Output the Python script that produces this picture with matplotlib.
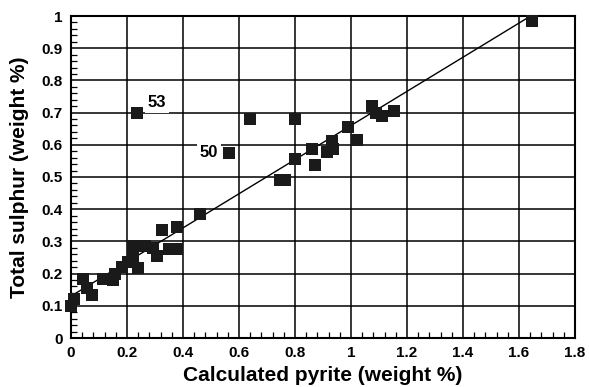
import matplotlib
matplotlib.use("Agg")
import matplotlib.pyplot as plt
from matplotlib.ticker import MultipleLocator, FuncFormatter
import numpy as np

# calculated pyrite (x) vs total sulphur (y), both weight %
pyrite = [0.00, 0.01, 0.044, 0.056, 0.074, 0.115, 0.151, 0.157, 0.181, 0.205,
          0.223, 0.24, 0.223, 0.264, 0.294, 0.306, 0.351, 0.38, 0.324, 0.377,
          0.46, 0.236, 0.565, 0.64, 0.80, 0.745, 0.765, 0.80, 0.862, 0.871,
          0.913, 0.937, 0.933, 0.99, 1.02, 1.075, 1.09, 1.11, 1.155, 1.645]
sulphur = [0.10, 0.12, 0.183, 0.154, 0.133, 0.183, 0.18, 0.20, 0.221, 0.236,
           0.252, 0.216, 0.286, 0.286, 0.278, 0.254, 0.275, 0.275, 0.334, 0.345,
           0.386, 0.70, 0.575, 0.68, 0.68, 0.49, 0.49, 0.555, 0.587, 0.538,
           0.577, 0.587, 0.613, 0.655, 0.615, 0.72, 0.70, 0.69, 0.705, 0.985]

# fitted line
fit_intercept = 0.13
fit_slope = 0.53
fit_range = [0.0, 1.64]

# labelled samples
labels = ["53", "50"]
label_pos = [(0.275, 0.73), (0.525, 0.575)]
label_ha = ["left", "right"]

BOLD = dict(family=["Liberation Sans", "DejaVu Sans"], fontweight="bold")

fig = plt.figure(figsize=(5.89, 3.87), dpi=100)
ax = fig.add_axes([71 / 589, 1 - 338 / 387, 504 / 589, 322 / 387])

ax.set_xlim(0, 1.8)
ax.set_ylim(0, 1)
ax.xaxis.set_major_locator(MultipleLocator(0.2))
ax.xaxis.set_minor_locator(MultipleLocator(0.04))
ax.yaxis.set_major_locator(MultipleLocator(0.1))
ax.yaxis.set_minor_locator(MultipleLocator(0.02))
fmt = FuncFormatter(lambda v, p: f"{v:.1f}".rstrip("0").rstrip(".") if v else "0")
ax.xaxis.set_major_formatter(fmt)
ax.yaxis.set_major_formatter(fmt)

ax.grid(True, which="major", color="black", linewidth=1.1)
ax.set_axisbelow(True)
for s in ax.spines.values():
    s.set_color("black"); s.set_linewidth(1.5)
ax.tick_params(which="both", direction="in", colors="black", top=False, right=False)
ax.tick_params(which="major", length=0, pad=6)
ax.tick_params(which="minor", length=4, width=0.9)
for t in ax.get_xticklabels() + ax.get_yticklabels():
    t.set_fontsize(11); t.set_fontweight("bold"); t.set_family(BOLD["family"])

xs = np.array(fit_range)
ax.plot(xs, fit_intercept + fit_slope * xs, color="black", linewidth=1.0, zorder=3)
ax.plot(pyrite, sulphur, linestyle="", marker="s", markersize=8.7,
        color="#1a1a1a", markeredgewidth=0, zorder=4, clip_on=False)

for txt, (x, y), ha in zip(labels, label_pos, label_ha):
    ax.text(x, y, txt, fontsize=12, ha=ha, va="center", zorder=5,
            bbox=dict(facecolor="white", edgecolor="none", pad=2), **BOLD)

ax.set_xlabel("Calculated pyrite (weight %)", fontsize=15, labelpad=4, **BOLD)
ax.set_ylabel("Total sulphur (weight %)", fontsize=15, labelpad=9, **BOLD)

fig.savefig("out.png", dpi=100, facecolor="white")
